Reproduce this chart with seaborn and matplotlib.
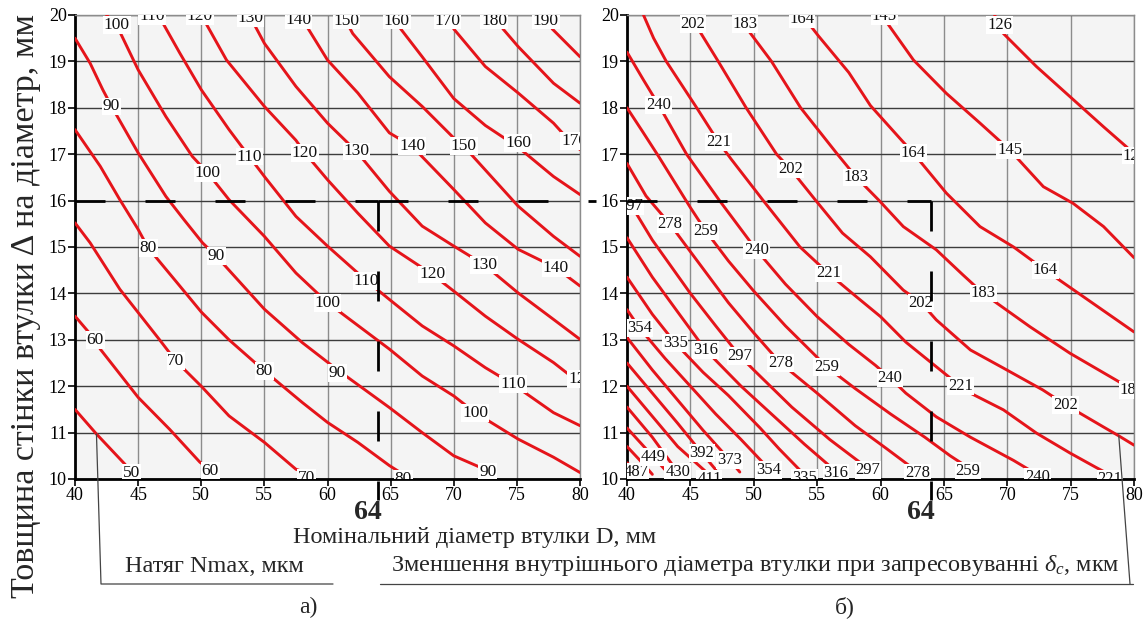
"""
Номограма: натяг Nmax та зменшення внутрішнього діаметра втулки
"""
import matplotlib
matplotlib.use("Agg")
import matplotlib.pyplot as plt
import matplotlib.transforms as mtransforms
from matplotlib.lines import Line2D
import pandas as pd
import seaborn as sns

# ---------------- data: axes ----------------
x_ticks = [40, 45, 50, 55, 60, 65, 70, 75, 80]
y_ticks = [10, 11, 12, 13, 14, 15, 16, 17, 18, 19, 20]
D_mark = 64       # номінальний діаметр, мм
wall_mark = 16    # товщина стінки, мм

# ---------------- panel a): Nmax, мкм (points read from the picture) ----------------
N50 = [(40, 11.5), (41.7, 10.97), (43.95, 10.32), (44.5, 10.14)]
N60 = [(40, 13.51), (41.6, 13.0), (42.0, 12.8), (45.0, 11.76), (47.5, 11.07), (49.9, 10.36), (50.7, 10.21)]
N70 = [(40, 15.52), (41.2, 15.09), (43.55, 14.09), (46.7, 13.0), (48.0, 12.54), (50.0, 12.0),
       (52.2, 11.36), (55.0, 10.79), (57.5, 10.21), (58.3, 10.14)]
N80 = [(40, 17.53), (42.0, 16.74), (43.55, 16.02), (45.0, 15.38), (45.8, 14.98), (48.3, 14.16),
       (50.0, 13.6), (52.2, 13.0), (55.0, 12.33), (58.0, 11.65), (60.0, 11.22), (62.4, 10.79),
       (64.9, 10.29), (66.0, 10.1)]
N90 = [(40, 19.5), (41.2, 18.96), (42.2, 18.39), (42.9, 18.03), (45.0, 17.03), (47.2, 16.09),
       (48.6, 15.6), (50.1, 15.09), (51.2, 14.8), (55.0, 13.66), (58.0, 12.94), (60.8, 12.35),
       (64.9, 11.54), (67.5, 11.0), (70.0, 10.5), (72.7, 10.18)]
N100 = [(42.5, 20.0), (43.3, 19.78), (45.0, 18.82), (47.2, 17.81), (49.3, 16.95), (50.5, 16.6),
        (52.2, 16.02), (55.0, 15.23), (57.5, 14.44), (60.0, 13.8), (64.9, 12.8), (67.5, 12.22),
        (70.0, 11.79), (71.7, 11.43), (75.1, 10.86), (77.9, 10.47), (80.0, 10.14)]
N110 = [(46.6, 20.0), (48.3, 19.18), (50.0, 18.39), (52.2, 17.53), (53.8, 16.95), (55.0, 16.52),
        (57.5, 15.66), (60.0, 15.02), (63.1, 14.27), (64.9, 13.87), (67.5, 13.3), (70.0, 12.87),
        (72.5, 12.4), (74.7, 12.04), (77.9, 11.43), (80.0, 11.15)]
N120 = [(50.0, 20.0), (52.0, 19.03), (55.0, 18.03), (57.5, 17.3), (58.2, 17.03), (60.0, 16.45),
        (62.4, 15.73), (64.9, 15.02), (68.3, 14.41), (70.0, 14.05), (72.5, 13.51), (75.1, 13.01),
        (77.9, 12.51), (79.6, 12.15), (80.0, 12.08)]
N130 = [(53.8, 20.0), (55.0, 19.39), (57.5, 18.46), (60.0, 17.67), (62.3, 17.06), (64.9, 16.2),
        (67.5, 15.45), (70.0, 15.02), (72.4, 14.62), (75.1, 14.01), (77.9, 13.44), (80.0, 13.01)]
N140 = [(57.8, 20.0), (60.0, 19.03), (62.4, 18.32), (64.9, 17.46), (66.7, 17.17), (70.0, 16.24),
        (72.5, 15.52), (75.1, 14.95), (78.1, 14.55), (80.0, 14.16)]
N150 = [(61.2, 20.0), (62.0, 19.6), (64.9, 18.67), (67.5, 18.03), (70.0, 17.35), (70.8, 17.17),
        (75.1, 15.88), (77.9, 15.23), (80.0, 14.8)]
N160 = [(65.3, 20.0), (65.8, 19.7), (67.5, 19.1), (70.0, 18.2), (72.5, 17.62), (75.1, 17.15),
        (77.9, 16.52), (80.0, 16.13)]
N170 = [(69.5, 20.0), (70.0, 19.7), (72.5, 18.89), (75.1, 18.32), (77.9, 17.67), (79.2, 17.28), (80.0, 17.1)]
N180 = [(73.4, 20.0), (73.9, 19.7), (75.1, 19.32), (77.9, 18.53), (80.0, 18.1)]
N190 = [(77.4, 20.0), (77.8, 19.7), (80.0, 19.1)]

nmax_curves = {50: N50, 60: N60, 70: N70, 80: N80, 90: N90, 100: N100, 110: N110, 120: N120,
               130: N130, 140: N140, 150: N150, 160: N160, 170: N170, 180: N180, 190: N190}

# contour labels (value, D, wall)
nmax_labels = [
    (100, 43.3, 19.78), (110, 46.1, 19.98), (120, 49.9, 19.98), (130, 53.9, 19.93),
    (140, 57.7, 19.9), (150, 61.5, 19.88), (160, 65.5, 19.88), (170, 69.5, 19.88),
    (180, 73.2, 19.88), (190, 77.3, 19.88),
    (90, 42.9, 18.03), (100, 50.5, 16.6), (110, 53.8, 16.95), (120, 58.2, 17.03),
    (130, 62.3, 17.06), (140, 66.7, 17.17), (150, 70.8, 17.17), (160, 75.1, 17.24),
    (170, 79.55, 17.28),
    (80, 45.8, 14.98), (90, 51.2, 14.8), (100, 60.0, 13.8), (110, 63.1, 14.27),
    (120, 68.3, 14.41), (130, 72.4, 14.62), (140, 78.1, 14.55),
    (60, 41.6, 13.0), (70, 48.0, 12.54), (80, 55.0, 12.33), (90, 60.8, 12.29),
    (100, 71.7, 11.43), (110, 74.7, 12.04), (120, 80.1, 12.15),
    (50, 44.5, 10.14), (60, 50.7, 10.18), (70, 58.3, 10.03), (80, 66.0, 10.0), (90, 72.7, 10.16),
]

# ---------------- panel б): delta_c, мкм ----------------
D126 = [(69.0, 20.0), (69.7, 19.6), (72.3, 18.89), (74.95, 18.24), (77.6, 17.59), (79.4, 17.16), (80.0, 17.0)]
D145 = [(60.1, 20.0), (60.6, 19.8), (62.6, 19.03), (65.2, 18.31), (67.85, 17.67), (70.2, 17.09),
        (72.85, 16.3), (75.2, 15.94), (77.6, 15.44), (80.0, 14.77)]
D164 = [(53.6, 20.0), (54.3, 19.83), (55.1, 19.55), (57.5, 18.76), (59.2, 18.05), (61.5, 17.35),
        (62.6, 17.02), (65.2, 16.16), (67.85, 15.44), (70.5, 15.0), (73.0, 14.5), (76.0, 13.93),
        (80.0, 13.17)]
D183 = [(49.2, 20.0), (49.7, 19.62), (51.4, 19.0), (53.7, 18.0), (56.6, 17.0), (58.1, 16.5),
        (59.9, 16.0), (61.8, 15.44), (64.4, 14.94), (66.5, 14.4), (68.1, 14.0), (71.8, 13.28),
        (74.95, 12.71), (78.6, 12.13), (80.0, 11.9)]
D202 = [(45.0, 20.0), (45.8, 19.62), (47.2, 19.0), (49.4, 18.0), (51.8, 17.0), (52.9, 16.68),
        (54.9, 16.0), (57.0, 15.3), (59.2, 14.79), (61.8, 14.07), (63.2, 13.8), (64.4, 13.43),
        (67.1, 12.78), (69.7, 12.39), (72.8, 11.92), (74.6, 11.6), (77.6, 11.12), (78.8, 10.93),
        (80.0, 10.73)]
D221 = [(41.3, 20.0), (42.1, 19.5), (43.1, 19.0), (45.5, 18.0), (47.2, 17.27), (48.2, 16.9),
        (50.75, 16.0), (53.65, 15.0), (55.9, 14.43), (58.0, 13.95), (60.0, 13.5), (62.0, 12.95),
        (64.4, 12.42), (66.3, 12.0), (67.1, 11.85), (69.7, 11.49), (72.3, 10.99), (74.95, 10.56),
        (77.0, 10.25), (78.1, 10.09)]
D240 = [(40, 19.2), (41.3, 18.6), (42.5, 18.06), (44.7, 17.0), (47.3, 16.0), (50.2, 14.94),
        (52.5, 14.2), (55.0, 13.5), (57.5, 12.9), (59.6, 12.45), (60.75, 12.18), (62.0, 11.85),
        (64.4, 11.34), (67.1, 10.9), (70.5, 10.4), (72.4, 10.09)]
D259 = [(40, 18.0), (41.2, 17.5), (42.5, 16.95), (45.0, 15.85), (46.2, 15.35), (48.0, 14.7),
        (50.0, 14.05), (52.5, 13.3), (55.75, 12.42), (58.0, 11.95), (60.8, 11.4), (63.5, 10.9),
        (65.5, 10.5), (66.9, 10.25)]
D278 = [(40, 16.8), (41.5, 16.1), (43.4, 15.49), (45.0, 14.9), (48.0, 13.8), (50.0, 13.15),
        (52.1, 12.5), (55.0, 11.85), (58.0, 11.15), (60.5, 10.65), (62.8, 10.18)]
D297 = [(40, 16.05), (42.0, 15.15), (45.0, 14.0), (47.0, 13.3), (48.9, 12.65), (50.0, 12.35),
        (53.0, 11.55), (56.0, 10.85), (59.0, 10.23)]
D316 = [(40, 15.2), (42.0, 14.35), (44.0, 13.6), (46.2, 12.78), (49.0, 12.0), (52.0, 11.25),
        (54.0, 10.75), (56.5, 10.16)]
D335 = [(40, 14.35), (42.0, 13.55), (43.8, 12.93), (46.0, 12.3), (48.0, 11.8), (50.5, 11.1),
        (52.0, 10.65), (54.0, 10.09)]
D354 = [(40, 13.65), (41.0, 13.25), (43.0, 12.6), (45.0, 12.0), (47.0, 11.4), (49.0, 10.85), (51.15, 10.23)]
D373 = [(40, 13.05), (42.0, 12.35), (44.0, 11.7), (46.0, 11.05), (48.1, 10.41), (48.9, 10.15)]
D392 = [(40, 12.5), (42.0, 11.85), (44.0, 11.2), (45.9, 10.56), (47.0, 10.2)]
D411 = [(40, 12.0), (42.0, 11.35), (44.0, 10.7), (46.5, 10.09)]
D430 = [(40, 11.55), (42.0, 10.9), (44.0, 10.15)]
D449 = [(40, 11.1), (42.1, 10.47), (43.0, 10.2)]
D468 = [(40, 10.7), (41.2, 10.35), (42.0, 10.1)]
D487 = [(40, 10.35), (40.9, 10.15)]

delta_curves = {126: D126, 145: D145, 164: D164, 183: D183, 202: D202, 221: D221, 240: D240,
                259: D259, 278: D278, 297: D297, 316: D316, 335: D335, 354: D354, 373: D373,
                392: D392, 411: D411, 430: D430, 449: D449, 468: D468, 487: D487}

delta_labels = [
    (202, 45.2, 19.8), (183, 49.3, 19.8), (164, 53.8, 19.92), (145, 60.3, 19.98), (126, 69.4, 19.78),
    (240, 42.5, 18.06), (221, 47.2, 17.27), (202, 52.9, 16.68), (183, 58.1, 16.5),
    (164, 62.6, 17.02), (145, 70.2, 17.09), (126, 80.1, 16.97),
    (297, 40.3, 15.89), (278, 43.4, 15.49), (259, 46.2, 15.35), (240, 50.2, 14.94),
    (221, 55.9, 14.43), (202, 63.2, 13.8), (183, 68.1, 14.0), (164, 73.0, 14.5),
    (354, 41.0, 13.25), (335, 43.8, 12.93), (316, 46.2, 12.78), (297, 48.9, 12.65),
    (278, 52.1, 12.5), (259, 55.75, 12.42), (240, 60.75, 12.18), (221, 66.3, 12.0),
    (202, 74.6, 11.6), (183, 79.85, 11.92),
    (487, 40.7, 10.15), (449, 42.1, 10.47), (430, 44.0, 10.15), (392, 45.9, 10.56),
    (411, 46.5, 10.0), (373, 48.1, 10.41), (354, 51.15, 10.2), (335, 54.0, 10.02),
    (316, 56.5, 10.14), (297, 59.0, 10.2), (278, 62.9, 10.14), (259, 66.9, 10.17),
    (240, 72.4, 10.05), (221, 78.1, 10.0),
]

# ---------------- style ----------------
W, H = 1148, 622
RED = "#e5141a"
sns.set_theme(style="ticks")
plt.rcParams["font.family"] = ["Liberation Serif", "DejaVu Serif"]
plt.rcParams["mathtext.fontset"] = "custom"
plt.rcParams["mathtext.rm"] = "Liberation Serif"
plt.rcParams["mathtext.it"] = "Liberation Serif:italic"
plt.rcParams["lines.scale_dashes"] = False
DASH = (0, (21.6, 28.8))


def fx(px):
    return px / W


def fy(py):
    return 1 - py / H


def curves_frame(curves):
    rows = []
    for level, pts in curves.items():
        for i, (x, y) in enumerate(pts):
            rows.append({"level": level, "i": i, "x": x, "y": y})
    return pd.DataFrame(rows)


def draw_panel(ax, curves, labels, fs):
    ax.set_facecolor("#f4f4f4")
    ax.set_xlim(x_ticks[0], x_ticks[-1])
    ax.set_ylim(y_ticks[0], y_ticks[-1])
    ax.set_xticks(x_ticks)
    ax.set_yticks(y_ticks)
    ax.xaxis.grid(True, color="#8c8c8c", lw=1.0)
    ax.yaxis.grid(True, color="#3c3c3c", lw=1.0)
    ax.set_axisbelow(True)
    for side in ["left", "bottom"]:
        ax.spines[side].set_linewidth(2.0)
        ax.spines[side].set_color("black")
    for side in ["top", "right"]:
        ax.spines[side].set_linewidth(1.0)
        ax.spines[side].set_color("#8c8c8c")
    ax.tick_params(direction="out", length=5, width=1.2, labelsize=13, pad=1, colors="black")

    df = curves_frame(curves)
    sns.lineplot(data=df, x="x", y="y", units="level", estimator=None, sort=False,
                 color=RED, lw=2.1, ax=ax, legend=False, zorder=3)
    ax.set_xlabel("")
    ax.set_ylabel("")

    for val, x, y in labels:
        ax.text(x, y, str(val), ha="center", va="center", fontsize=fs, color="#111111",
                bbox=dict(boxstyle="square,pad=0.05", fc="white", ec="none"),
                clip_on=True, zorder=4)

    # dashed reading lines for D = 64 mm, wall = 16 mm
    ax.plot([x_ticks[0], D_mark], [wall_mark, wall_mark], color="black", lw=2.0,
            linestyle=DASH, dash_capstyle="butt", zorder=5)
    ax.plot([D_mark, D_mark], [wall_mark, 9.55], color="black", lw=2.0,
            linestyle=DASH, dash_capstyle="butt", clip_on=False, zorder=5)
    tr = mtransforms.blended_transform_factory(ax.transData, ax.transAxes)
    ax.text(D_mark - 0.8, -0.072, str(D_mark), transform=tr, ha="center", va="center",
            fontsize=20, fontweight="bold")


fig = plt.figure(figsize=(W / 100, H / 100), dpi=100)
ax1 = fig.add_axes([fx(75), fy(479), (580 - 75) / W, (479 - 15) / H])
ax2 = fig.add_axes([fx(627), fy(479), (1134 - 627) / W, (479 - 15) / H])

draw_panel(ax1, nmax_curves, nmax_labels, 12.5)
draw_panel(ax2, delta_curves, delta_labels, 12)

# the 16 mm line continues from panel а) to panel б)
ax1.plot([D_mark, 81.3], [wall_mark, wall_mark], color="black", lw=2.0,
         linestyle=DASH, dash_capstyle="butt", clip_on=False, zorder=5)

# texts
fig.text(fx(26), fy(306), "Товщина стінки втулки Δ на діаметр, мм", rotation=90,
         ha="center", va="center", fontsize=24.5)
fig.text(fx(475), fy(538), "Номінальний діаметр втулки D, мм", ha="center", va="center", fontsize=17.5)
fig.text(fx(214), fy(566), "Натяг Nmax, мкм", ha="center", va="center", fontsize=17.5)
fig.text(fx(755), fy(566), r"Зменшення внутрішнього діаметра втулки при запресовуванні $\delta_c$, мкм",
         ha="center", va="center", fontsize=17.5)
fig.text(fx(308), fy(607), "а)", ha="center", va="center", fontsize=17)
fig.text(fx(845), fy(607), "б)", ha="center", va="center", fontsize=17)

# leader lines to the legends
inv = fig.transFigure.inverted()
p1 = inv.transform(ax1.transData.transform(N50[1]))
fig.add_artist(Line2D([p1[0], fx(101), fx(333)], [p1[1], fy(584), fy(584)],
                      transform=fig.transFigure, color="#444444", lw=0.9))
p2 = inv.transform(ax2.transData.transform(D202[-2]))
fig.add_artist(Line2D([p2[0], fx(1130)], [p2[1], fy(584)],
                      transform=fig.transFigure, color="#444444", lw=0.9))
fig.add_artist(Line2D([fx(380), fx(1133)], [fy(584), fy(584)],
                      transform=fig.transFigure, color="#444444", lw=0.9))

fig.savefig("out.png", dpi=100)
